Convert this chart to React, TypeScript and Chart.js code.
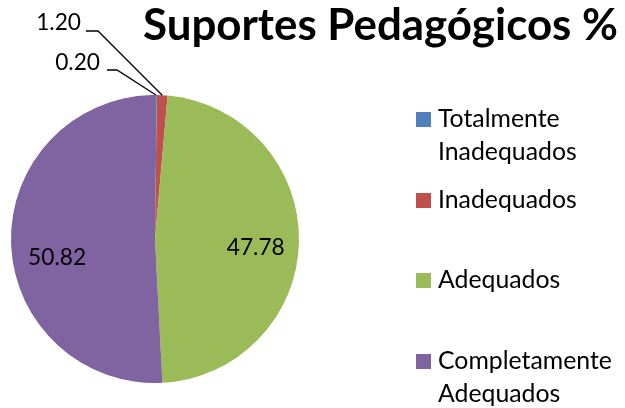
import React, { useEffect, useRef } from "react";
import { Chart, registerables } from "chart.js";

Chart.register(...registerables);

const titleText = "Suportes Pedagógicos %";
const categories = ["Totalmente Inadequados", "Inadequados", "Adequados", "Completamente Adequados"];
const legendLines = [["Totalmente", "Inadequados"], ["Inadequados"], ["Adequados"], ["Completamente", "Adequados"]];
const values = [0.2, 1.2, 47.78, 50.82];
const valueLabels = ["0.20", "1.20", "47.78", "50.82"];
const colors = ["#4F81BD", "#C0504D", "#9BBB59", "#8064A2"];

const FAMILY = "Lato, 'Open Sans', sans-serif";

function fitSize(ctx: CanvasRenderingContext2D, text: string, width: number, weight: string) {
  ctx.font = `${weight} 100px ${FAMILY}`;
  const w = ctx.measureText(text).width;
  return (100 * width) / w;
}

const overlayPlugin = {
  id: "overlay",
  afterDraw(chart: any) {
    const ctx: CanvasRenderingContext2D = chart.ctx;
    ctx.save();
    ctx.fillStyle = "#000";
    ctx.textBaseline = "alphabetic";
    ctx.textAlign = "left";

    // Title
    const ts = fitSize(ctx, titleText, 475, "bold");
    ctx.font = `bold ${ts}px ${FAMILY}`;
    ctx.fillText(titleText, 143, 40);

    // Legend
    const ls = fitSize(ctx, "Completamente", 174, "normal");
    ctx.font = `${ls}px ${FAMILY}`;
    const baselines = [127, 208, 288, 369];
    legendLines.forEach((lines, i) => {
      const b = baselines[i];
      ctx.fillStyle = colors[i];
      ctx.fillRect(416, b - 15, 15, 15);
      ctx.fillStyle = "#000";
      lines.forEach((t, j) => ctx.fillText(t, 438, b + j * 33));
    });

    // Data labels
    const meta = chart.getDatasetMeta(0);
    const ds = fitSize(ctx, "47.78", 58, "normal");
    ctx.font = `${ds}px ${FAMILY}`;
    const inside = [
      { i: 2, f: 0.7, dy: 6 },
      { i: 3, f: 0.68, dy: 15 },
    ];
    inside.forEach(({ i, f, dy }) => {
      const arc = meta.data[i];
      const mid = (arc.startAngle + arc.endAngle) / 2;
      const r = arc.outerRadius * f;
      const x = arc.x + Math.cos(mid) * r;
      const y = arc.y + Math.sin(mid) * r + dy;
      ctx.textAlign = "center";
      ctx.textBaseline = "middle";
      ctx.fillText(valueLabels[i], x, y + 1);
    });

    // small slices with leader lines
    ctx.textAlign = "right";
    ctx.textBaseline = "alphabetic";
    ctx.strokeStyle = "#000";
    ctx.lineWidth = 1.3;
    const small = [
      { i: 1, tx: 81, ty: 30, lx1: 86, lx2: 98, ly: 31 },
      { i: 0, tx: 100, ty: 70, lx1: 107, lx2: 117, ly: 70 },
    ];
    small.forEach(({ i, tx, ty, lx1, lx2, ly }) => {
      const arc = meta.data[i];
      const mid = (arc.startAngle + arc.endAngle) / 2;
      const ex = arc.x + Math.cos(mid) * arc.outerRadius;
      const ey = arc.y + Math.sin(mid) * arc.outerRadius;
      ctx.fillText(valueLabels[i], tx, ty);
      ctx.beginPath();
      ctx.moveTo(lx1, ly);
      ctx.lineTo(lx2, ly);
      ctx.lineTo(ex, ey);
      ctx.stroke();
    });
    ctx.restore();
  },
};

export default function App() {
  const ref = useRef<HTMLCanvasElement>(null);
  useEffect(() => {
    document.body.style.margin = "0";
    const chart = new Chart(ref.current!, {
      type: "pie",
      data: {
        labels: categories,
        datasets: [
          {
            data: values,
            backgroundColor: colors,
            borderWidth: 0,
          },
        ],
      },
      options: {
        responsive: false,
        animation: false,
        layout: { padding: { left: 11, right: 326, top: 95, bottom: 25 } },
        plugins: {
          legend: { display: false },
          title: { display: false },
          tooltip: { enabled: false },
        },
      },
      plugins: [overlayPlugin],
    });
    return () => chart.destroy();
  }, []);
  return <canvas ref={ref} width={625} height={408} style={{ display: "block" }} />;
}
